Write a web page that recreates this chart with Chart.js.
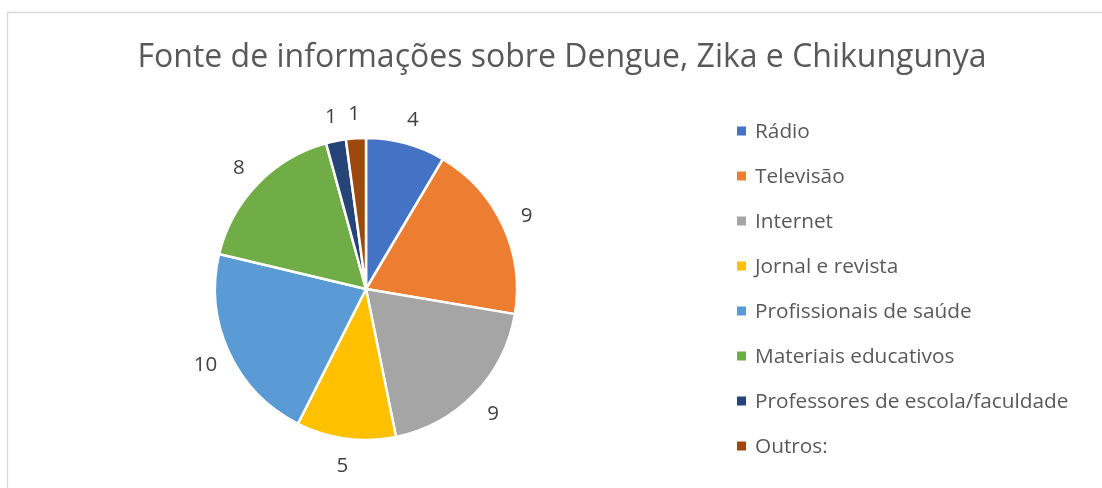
<!DOCTYPE html>
<html>
<head>
<meta charset="utf-8">
<script src="https://cdn.jsdelivr.net/npm/chart.js@4.4.1/dist/chart.umd.min.js"></script>
<style>
  html, body { margin: 0; padding: 0; background: #ffffff; }
  #wrap { position: relative; width: 1102px; height: 488px; }
  canvas { display: block; }
</style>
</head>
<body>
<div id="wrap"><canvas id="c" width="1102" height="488"></canvas></div>
<script>
const chartTitle = 'Fonte de informações sobre Dengue, Zika e Chikungunya';
const categories = ['Rádio', 'Televisão', 'Internet', 'Jornal e revista', 'Profissionais de saúde', 'Materiais educativos', 'Professores de escola/faculdade', 'Outros:'];
const values = [4, 9, 9, 5, 10, 8, 1, 1];
const colors = ['#4472C4', '#ED7D31', '#A5A5A5', '#FFC000', '#5B9BD5', '#70AD47', '#264478', '#9E480E'];

const FONT = '"Open Sans", "Noto Sans", sans-serif';

const decorPlugin = {
  id: 'decor',
  beforeDraw(chart) {
    const ctx = chart.ctx;
    ctx.save();
    ctx.strokeStyle = '#d9d9d9';
    ctx.lineWidth = 1.3;
    ctx.beginPath();
    ctx.moveTo(7.5, 488);
    ctx.lineTo(7.5, 12.5);
    ctx.lineTo(1102, 12.5);
    ctx.stroke();
    ctx.restore();
  },
  afterDraw(chart) {
    const ctx = chart.ctx;
    ctx.save();
    // title
    ctx.fillStyle = '#595959';
    ctx.font = '32px ' + FONT;
    ctx.textAlign = 'center';
    ctx.textBaseline = 'middle';
    ctx.fillText(chartTitle, 562, 58);

    // data labels outside the slices
    const meta = chart.getDatasetMeta(0);
    ctx.fillStyle = '#404040';
    ctx.font = '20.5px ' + FONT;
    meta.data.forEach((arc, i) => {
      const p = arc.getProps(['x', 'y', 'startAngle', 'endAngle', 'outerRadius'], true);
      const mid = (p.startAngle + p.endAngle) / 2;
      const r = p.outerRadius + 26;
      ctx.fillText(String(values[i]), p.x + Math.cos(mid) * r, p.y + Math.sin(mid) * r + 2);
    });

    // legend
    ctx.textAlign = 'left';
    ctx.font = '20.8px ' + FONT;
    categories.forEach((label, i) => {
      const y = 131 + i * 45;
      ctx.fillStyle = colors[i];
      ctx.fillRect(737, y - 4.5, 9, 9);
      ctx.fillStyle = '#595959';
      ctx.fillText(label, 755, y + 1);
    });
    ctx.restore();
  }
};

new Chart(document.getElementById('c'), {
  type: 'pie',
  data: {
    labels: categories,
    datasets: [{
      data: values,
      backgroundColor: colors,
      borderColor: '#ffffff',
      borderWidth: 2.5
    }]
  },
  options: {
    responsive: false,
    animation: false,
    radius: 151,
    layout: { padding: { left: 215, right: 585, top: 138, bottom: 48 } },
    plugins: {
      legend: { display: false },
      title: { display: false },
      tooltip: { enabled: false }
    }
  },
  plugins: [decorPlugin]
});
</script>
</body>
</html>
